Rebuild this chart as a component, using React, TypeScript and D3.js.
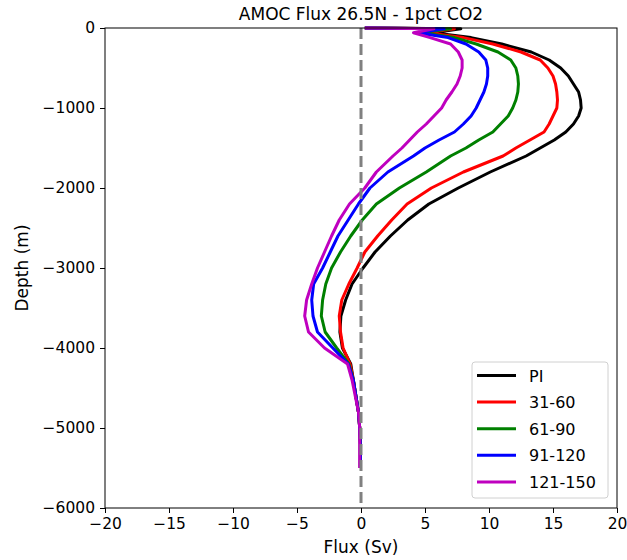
import React, { useEffect, useRef } from "react";
import * as d3 from "d3";

// depth levels (m)
const depth = [
  0, -10, -60, -120, -200, -300, -400, -500, -600, -700, -800, -900, -1000,
  -1100, -1200, -1300, -1400, -1500, -1600, -1800, -2000, -2200, -2400, -2600,
  -2800, -3000, -3200, -3400, -3600, -3800, -4000, -4200, -4400, -4600, -4800,
  -5000, -5200, -5400, -5500,
];

// flux (Sv) per period
const pi = [
  0.3, 7.8, 5.6, 8.6, 11.0, 13.3, 14.7, 15.6, 16.2, 16.6, 17.0, 17.15, 17.2,
  17.0, 16.6, 16.0, 15.1, 14.0, 12.9, 10.1, 7.6, 5.3, 3.65, 2.3, 1.1, 0.16,
  -0.7, -1.2, -1.57, -1.65, -1.45, -0.8, -0.6, -0.4, -0.2, -0.1, -0.05, -0.05,
  -0.05,
];
const y31_60 = [
  0.3, 7.3, 5.1, 8.0, 10.3, 12.5, 14.0, 14.6, 15.0, 15.2, 15.3, 15.35, 15.3,
  15.0, 14.7, 14.3, 13.2, 12.1, 11.1, 8.0, 5.5, 3.6, 2.4, 1.3, 0.3, -0.3, -0.95,
  -1.5, -1.7, -1.6, -1.4, -0.85, -0.6, -0.4, -0.2, -0.1, -0.05, -0.05, -0.05,
];
const y61_90 = [
  0.3, 7.0, 4.7, 7.3, 9.0, 10.7, 11.7, 12.1, 12.25, 12.3, 12.25, 12.1, 11.85,
  11.5, 10.9, 10.3, 9.2, 8.2, 7.0, 5.1, 3.0, 1.2, 0.1, -0.8, -1.6, -2.3, -2.75,
  -3.0, -3.1, -2.8, -1.9, -0.95, -0.6, -0.4, -0.2, -0.1, -0.05, -0.05, -0.05,
];
const y91_120 = [
  0.3, 6.5, 4.4, 6.8, 8.2, 9.2, 9.75, 9.9, 9.9, 9.8, 9.6, 9.3, 9.0, 8.6, 8.0,
  7.3, 6.1, 5.0, 4.1, 2.1, 0.7, -0.2, -1.0, -1.8, -2.4, -3.0, -3.7, -3.85,
  -3.75, -3.4, -2.2, -1.0, -0.6, -0.4, -0.2, -0.1, -0.05, -0.05, -0.05,
];
const y121_150 = [
  0.3, 5.7, 4.1, 5.4, 7.0, 7.6, 7.9, 7.9, 7.75, 7.5, 7.1, 6.65, 6.3, 5.7, 5.1,
  4.4, 3.8, 3.2, 2.5, 1.2, 0.3, -0.9, -1.7, -2.3, -2.85, -3.4, -3.85, -4.25,
  -4.4, -4.1, -2.85, -1.05, -0.7, -0.45, -0.2, -0.1, -0.1, -0.1, -0.1,
];

const labels = ["PI", "31-60", "61-90", "91-120", "121-150"];
const colors = ["#000000", "#ff0000", "#008000", "#0000ff", "#bf00bf"];
const seriesList = [pi, y31_60, y61_90, y91_120, y121_150];

const xTicks = [-20, -15, -10, -5, 0, 5, 10, 15, 20];
const yTicks = [0, -1000, -2000, -3000, -4000, -5000, -6000];

const App = () => {
  const svgRef = useRef(null);

  useEffect(() => {
    const svg = d3.select(svgRef.current);
    svg.selectAll("*").remove();

    const width = 627;
    const height = 560;
    const margin = { top: 28, right: 10, bottom: 52, left: 105 };
    const font = "DejaVu Sans, sans-serif";

    const x = d3
      .scaleLinear()
      .domain([-20, 20])
      .range([margin.left, width - margin.right]);
    const y = d3
      .scaleLinear()
      .domain([-6000, 0])
      .range([height - margin.bottom, margin.top]);

    svg.attr("width", width).attr("height", height);

    const line = d3
      .line()
      .x((d) => x(d[0]))
      .y((d) => y(d[1]));

    seriesList.forEach((s, i) => {
      svg
        .append("path")
        .datum(s.map((v, j) => [v, depth[j]]))
        .attr("fill", "none")
        .attr("stroke", colors[i])
        .attr("stroke-width", 3)
        .attr("stroke-linejoin", "round")
        .attr("d", line);
    });

    // zero line
    svg
      .append("line")
      .attr("x1", x(0))
      .attr("x2", x(0))
      .attr("y1", y(0))
      .attr("y2", y(-6000))
      .attr("stroke", "#808080")
      .attr("stroke-width", 3)
      .attr("stroke-dasharray", "11 5");

    // frame
    svg
      .append("rect")
      .attr("x", margin.left)
      .attr("y", margin.top)
      .attr("width", width - margin.left - margin.right)
      .attr("height", height - margin.top - margin.bottom)
      .attr("fill", "none")
      .attr("stroke", "#000")
      .attr("stroke-width", 1);

    const fmt = (d) => d3.format("")(d).replace("-", "\u2212");
    const xAxis = svg
      .append("g")
      .attr("transform", `translate(0,${height - margin.bottom})`)
      .call(
        d3
          .axisBottom(x)
          .tickValues(xTicks)
          .tickSize(5)
          .tickPadding(5)
          .tickSizeOuter(0)
          .tickFormat(fmt)
      );
    const yAxis = svg
      .append("g")
      .attr("transform", `translate(${margin.left},0)`)
      .call(
        d3
          .axisLeft(y)
          .tickValues(yTicks)
          .tickSize(5)
          .tickPadding(5)
          .tickSizeOuter(0)
          .tickFormat(fmt)
      );
    [xAxis, yAxis].forEach((g) => {
      g.select(".domain").remove();
      g.selectAll("text")
        .attr("font-family", font)
        .attr("font-size", 15.5)
        .attr("fill", "#000");
      g.selectAll("line").attr("stroke", "#000");
    });

    svg
      .append("text")
      .attr("x", x(0))
      .attr("y", 20)
      .attr("text-anchor", "middle")
      .attr("font-family", font)
      .attr("font-size", 17)
      .text("AMOC Flux 26.5N - 1pct CO2");

    svg
      .append("text")
      .attr("x", x(0))
      .attr("y", 553)
      .attr("text-anchor", "middle")
      .attr("font-family", font)
      .attr("font-size", 17)
      .text("Flux (Sv)");

    svg
      .append("text")
      .attr("transform", `translate(28,${y(-3000)}) rotate(-90)`)
      .attr("text-anchor", "middle")
      .attr("font-family", font)
      .attr("font-size", 17)
      .text("Depth (m)");

    // legend
    const lg = svg.append("g").attr("transform", "translate(472,362)");
    lg.append("rect")
      .attr("width", 136)
      .attr("height", 136)
      .attr("rx", 3)
      .attr("fill", "#fff")
      .attr("fill-opacity", 0.8)
      .attr("stroke", "#d0d0d0");
    labels.forEach((lab, i) => {
      const ry = 13.5 + i * 26.6;
      lg.append("line")
        .attr("x1", 5)
        .attr("x2", 44)
        .attr("y1", ry)
        .attr("y2", ry)
        .attr("stroke", colors[i])
        .attr("stroke-width", 3);
      lg.append("text")
        .attr("x", 57)
        .attr("y", ry + 6)
        .attr("font-family", font)
        .attr("font-size", 16)
        .text(lab);
    });
  }, []);

  return (
    <svg
      ref={svgRef}
      style={{ position: "absolute", left: 0, top: 0, display: "block" }}
    ></svg>
  );
};

export default App;
